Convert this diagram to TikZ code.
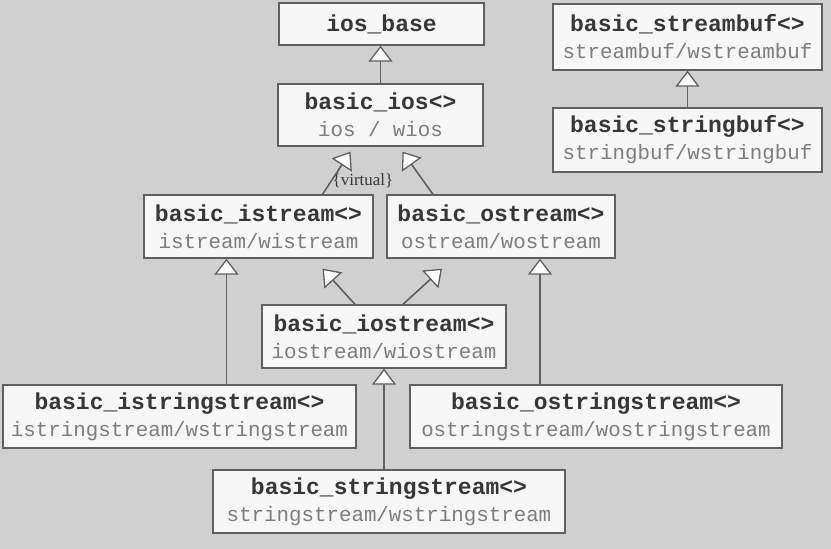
\documentclass[tikz,border=0pt]{standalone}
\usepackage{fontspec}
\setmainfont{Liberation Serif}
\setmonofont{Liberation Mono}
\usetikzlibrary{arrows.meta}

\definecolor{bggray}{RGB}{208,208,208}
\definecolor{boxline}{RGB}{95,95,95}
\definecolor{titlecol}{RGB}{55,55,55}
\definecolor{subcol}{RGB}{125,125,125}

\newcommand{\cls}[2]{{\fontsize{23}{27}\selectfont\bfseries #1}\\{\fontsize{20.8}{27}\selectfont\color{subcol}#2}}

\begin{document}
\begin{tikzpicture}[x=1pt, y=-1pt,
    box/.style={draw=boxline, line width=1.3pt, fill=white!97!black, text=titlecol, align=center, inner sep=0pt, font=\ttfamily\fontsize{23}{27}\selectfont},
    inh/.style={draw=boxline, line width=1.6pt, -{Triangle[length=16pt, width=24pt, line width=1.3pt, fill=white]}}]
    \fill[bggray] (0,0) rectangle (831,549);
    \useasboundingbox (0,0) rectangle (831,549);
    % classes
    \node[box, minimum width=205, minimum height=42] (base) at (381.5,24) {\bfseries ios\_base};
    \node[box, minimum width=205, minimum height=62] (ios) at (380.5,115) {\cls{basic\_ios<>}{ios / wios}};
    \node[box, minimum width=269, minimum height=66] (sbuf) at (687.5,37) {\cls{basic\_streambuf<>}{streambuf/wstreambuf}};
    \node[box, minimum width=269, minimum height=64] (strbuf) at (687.5,140) {\cls{basic\_stringbuf<>}{stringbuf/wstringbuf}};
    \node[box, minimum width=229, minimum height=63] (istr) at (258.5,226.5) {\cls{basic\_istream<>}{istream/wistream}};
    \node[box, minimum width=228, minimum height=63] (ostr) at (501,226.5) {\cls{basic\_ostream<>}{ostream/wostream}};
    \node[box, minimum width=244, minimum height=63] (iostr) at (384,336.5) {\cls{basic\_iostream<>}{iostream/wiostream}};
    \node[box, minimum width=353, minimum height=63] (istrs) at (179.5,416.5) {\cls{basic\_istringstream<>}{istringstream/wstringstream}};
    \node[box, minimum width=372, minimum height=63] (ostrs) at (596,416.5) {\cls{basic\_ostringstream<>}{ostringstream/wostringstream}};
    \node[box, minimum width=352, minimum height=63] (strs) at (389,501.5) {\cls{basic\_stringstream<>}{stringstream/wstringstream}};
    \node[font=\fontsize{17}{17}\selectfont, text=titlecol, inner sep=1pt] (virt) at (363,181) {\{virtual\}};
    % inheritance
    \draw[inh] (ios.north) -- (base.south -| ios.north);
    \draw[inh] (strbuf) -- (sbuf);
    \draw[inh] ([xshift=64]istr.north) -- ([xshift=-30, yshift=-5]ios.south);
    \draw[inh] ([xshift=-68]ostr.north) -- ([xshift=22, yshift=-5]ios.south);
    \draw[inh] ([xshift=-29]iostr.north) -- ([xshift=64, yshift=-10]istr.south);
    \draw[inh] ([xshift=19]iostr.north) -- ([xshift=-59, yshift=-10]ostr.south);
    \draw[inh] ([xshift=47]istrs.north) -- ([xshift=-32]istr.south);
    \draw[inh] ([xshift=-56]ostrs.north) -- ([xshift=39]ostr.south);
    \draw[inh] (strs.north -| iostr.south) -- (iostr.south);
\end{tikzpicture}
\end{document}
